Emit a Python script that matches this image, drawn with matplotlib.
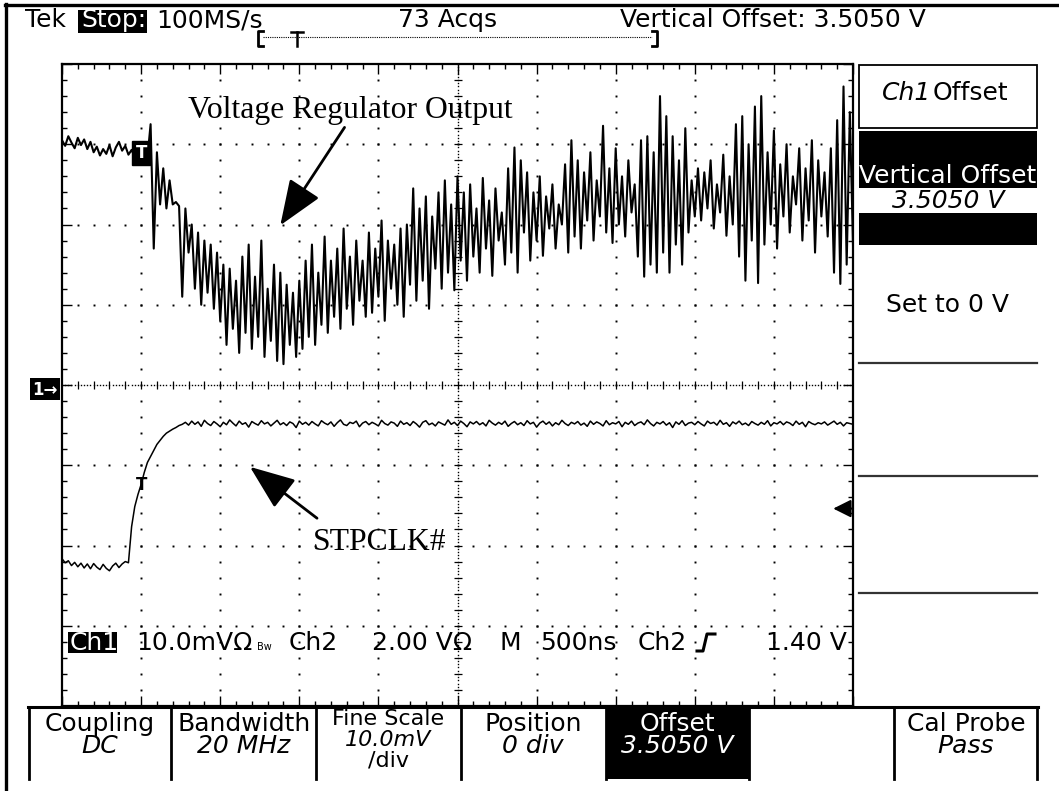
import numpy as np
import matplotlib
matplotlib.use('Agg')
import matplotlib.pyplot as plt
from matplotlib.patches import Rectangle

# scope settings
t_start = -500          # ns at left edge, trigger sits 1 div in
dt = 20                 # ns between the samples typed below
ns_per_div = 500
ch1_mv_per_div = 10.0
ch2_v_per_div = 2.0
ch2_pos_div = -2.24
trig_level_v = 1.40

# Ch1: voltage regulator output, mV relative to the 3.5050 V offset
ch1_mv = [
    30.5, 29.8, 31.0, 30.2, 29.5, 30.8, 29.9, 30.6, 29.4, 30.3, 29.0, 29.7, 28.6, 29.4,
    28.8, 29.9, 28.5, 29.6, 30.3, 29.2, 29.8, 28.7, 29.3, 28.4, 29.0, 28.6, 28.9, 28.3,
    32.5, 17.0, 29.0, 22.5, 27.0, 22.0, 25.5, 22.5, 22.8, 22.3, 11.0, 22.0, 16.5, 20.0,
    12.0, 19.0, 10.0, 18.0, 11.5, 17.5, 9.5, 16.5, 8.0, 15.0, 5.0, 14.5, 7.0, 13.0,
    4.0, 16.0, 6.5, 17.5, 4.5, 13.5, 6.0, 18.0, 3.5, 12.0, 5.5, 15.0, 3.0, 14.0,
    2.6, 12.5, 5.0, 11.5, 3.5, 13.0, 4.5, 15.5, 6.0, 17.5, 5.0, 14.0, 7.5, 18.5,
    6.5, 15.5, 8.5, 17.0, 7.0, 19.5, 9.5, 16.0, 7.5, 18.0, 10.5, 15.5, 8.5, 19.0,
    9.0, 17.0, 11.0, 20.5, 8.0, 18.0, 12.0, 17.5, 10.0, 19.5, 8.5, 20.0, 12.5, 24.5,
    10.5, 22.0, 13.0, 23.5, 9.5, 21.0, 14.5, 24.0, 12.0, 25.5, 14.0, 22.5, 11.8, 26.0,
    15.5, 24.0, 13.0, 25.0, 16.0, 22.0, 14.0, 25.8, 17.0, 23.0, 13.6, 24.5, 18.0, 21.5,
    15.0, 27.0, 16.5, 29.6, 14.0, 28.0, 19.0, 26.5, 15.5, 24.0, 18.0, 26.0, 16.1, 23.5,
    19.5, 25.0, 17.0, 22.5, 20.0, 27.5, 16.5, 30.5, 18.5, 28.0, 17.0, 26.5, 20.5, 29.0,
    18.0, 25.5, 21.0, 32.3, 19.0, 27.0, 17.7, 29.5, 20.0, 26.0, 18.5, 28.0, 21.5, 25.0,
    16.0, 30.5, 13.5, 31.0, 15.0, 29.0, 14.0, 36.0, 16.5, 33.5, 14.0, 31.0, 17.5, 28.0,
    15.0, 32.0, 19.0, 25.5, 21.0, 27.0, 20.5, 26.5, 22.0, 28.0, 19.5, 25.0, 21.5, 28.7,
    18.6, 26.0, 20.0, 32.5, 16.0, 33.5, 13.0, 30.0, 18.0, 34.7, 12.7, 36.0, 17.5, 29.0,
    20.0, 31.7, 17.0, 27.5, 21.0, 30.0, 19.0, 26.0, 22.5, 29.5, 18.0, 27.0, 20.5, 30.5,
    16.5, 28.0, 21.0, 26.5, 18.5, 29.5, 14.0, 33.0, 12.6, 37.2, 15.0, 34.0, 17.5,
]

# Ch2: STPCLK#, volts
ch2_v = [
    0.15, 0.05, 0.10, -0.02, 0.06, -0.05, 0.04, -0.08, 0.02, -0.10, 0.03, -0.06, -0.12, 0.01,
    -0.09, -0.15, -0.03, 0.04, -0.07, 0.02, 0.08,
    0.05, 0.95, 1.45, 1.75, 2.00, 2.30, 2.55, 2.70, 2.85, 3.00, 3.10, 3.20, 3.28, 3.33,
    3.38, 3.42, 3.47, 3.50, 3.55,
    3.48, 3.58, 3.50, 3.56, 3.45, 3.60, 3.52, 3.47, 3.57, 3.51,
    3.44, 3.55, 3.49, 3.61, 3.53, 3.46, 3.58, 3.50, 3.54, 3.43,
    3.57, 3.52, 3.48, 3.59, 3.51, 3.55, 3.46, 3.53, 3.60, 3.49,
    3.54, 3.47, 3.56, 3.52, 3.42, 3.58, 3.50, 3.55, 3.48, 3.57,
    3.51, 3.46, 3.59, 3.53, 3.49, 3.56, 3.45, 3.54, 3.61, 3.50,
    3.47, 3.55, 3.52, 3.58, 3.44, 3.53, 3.57, 3.49, 3.55, 3.51,
    3.46, 3.60, 3.52, 3.48, 3.56, 3.53, 3.45, 3.58, 3.50, 3.54,
    3.47, 3.57, 3.51, 3.43, 3.55, 3.59, 3.49, 3.53, 3.46, 3.56,
    3.52, 3.48, 3.61, 3.50, 3.55, 3.47, 3.58, 3.52, 3.44, 3.56,
    3.51, 3.57, 3.49, 3.54, 3.46, 3.60, 3.53, 3.48, 3.55, 3.50,
    3.58, 3.45, 3.52, 3.57, 3.49, 3.54, 3.47, 3.59, 3.51, 3.55,
    3.43, 3.53, 3.58, 3.50, 3.56, 3.46, 3.54, 3.49, 3.60, 3.52,
    3.47, 3.55, 3.51, 3.57, 3.48, 3.53, 3.45, 3.58, 3.50, 3.56,
    3.52, 3.46, 3.59, 3.49, 3.54, 3.51, 3.57, 3.44, 3.55, 3.50,
    3.58, 3.47, 3.53, 3.56, 3.49, 3.61, 3.52, 3.46, 3.55, 3.51,
    3.57, 3.48, 3.54, 3.42, 3.56, 3.50, 3.59, 3.47, 3.53, 3.55,
    3.49, 3.57, 3.51, 3.46, 3.58, 3.52, 3.55, 3.48, 3.60, 3.50,
    3.54, 3.45, 3.56, 3.51, 3.58, 3.49, 3.53, 3.47, 3.57, 3.52,
    3.48, 3.55, 3.50, 3.59, 3.46, 3.54, 3.51, 3.57, 3.49, 3.56,
    3.53, 3.47, 3.58, 3.50, 3.55, 3.44, 3.57, 3.52, 3.49, 3.54,
    3.51, 3.56, 3.48, 3.53, 3.58, 3.50, 3.55, 3.46, 3.54, 3.52, 3.50,
]

t1 = t_start + dt * np.arange(len(ch1_mv))
t2 = t_start + dt * np.arange(len(ch2_v))

W, H = 1059, 791
FONT = 'DejaVu Sans'
FS = 18
fig = plt.figure(figsize=(W / 100, H / 100), dpi=100)

# pixel canvas for the scope's frame, menus and readouts
bg = fig.add_axes([0, 0, 1, 1])
bg.set_xlim(0, W)
bg.set_ylim(H, 0)
bg.axis('off')

# graticule axes: x in ns, y in divisions
gx0, gx1, gy0, gy1 = 62, 853, 64, 706
ax = fig.add_axes([gx0 / W, 1 - gy1 / H, (gx1 - gx0) / W, (gy1 - gy0) / H])
ax.set_xlim(t_start, t_start + 10 * ns_per_div)
ax.set_ylim(-4, 4)
ax.patch.set_alpha(0)
for s in ax.spines.values():
    s.set_linewidth(1.6)
ax.set_xticks(np.arange(t_start, t_start + 10 * ns_per_div + 1, ns_per_div))
ax.set_xticks(np.arange(t_start, t_start + 10 * ns_per_div + 1, ns_per_div / 5), minor=True)
ax.set_yticks(np.arange(-4, 5, 1))
ax.set_yticks(np.arange(-4, 4.01, 0.2), minor=True)
ax.tick_params(which='both', direction='in', top=True, right=True,
               labelbottom=False, labelleft=False, width=1)
ax.tick_params(which='minor', length=3.5)
ax.tick_params(which='major', length=7)

# dotted graticule
ydots = np.arange(-3.8, 3.81, 0.2)
xdots = np.arange(t_start + 100, t_start + 10 * ns_per_div, 100)
t_mid = t_start + 5 * ns_per_div
for i in range(1, 10):
    if i == 5:
        continue
    x = t_start + i * ns_per_div
    ax.plot(np.full_like(ydots, x), ydots, ls='none', marker='s', ms=1.4, mew=0, color='k')
for j in range(-3, 4):
    if j == 0:
        continue
    ax.plot(xdots, np.full_like(xdots, j, dtype=float), ls='none', marker='s', ms=1.4, mew=0, color='k')
# centre cross: dense dots with small ticks
yd = np.arange(-4, 4.001, 0.04)
ax.plot(np.full_like(yd, t_mid), yd, ls='none', marker='s', ms=1.0, mew=0, color='k')
ax.plot(np.full_like(ydots, t_mid), ydots, ls='none', marker='_', ms=6, mew=0.9, color='k')
xd = np.arange(t_start, t_start + 10 * ns_per_div + 1, 20)
ax.plot(xd, np.zeros_like(xd, dtype=float), ls='none', marker='s', ms=1.0, mew=0, color='k')
ax.plot(xdots, np.zeros_like(xdots, dtype=float), ls='none', marker='|', ms=6, mew=0.9, color='k')

# traces
ax.plot(t1, np.array(ch1_mv) / ch1_mv_per_div, color='k', lw=1.5, zorder=5)
ax.plot(t2, np.array(ch2_v) / ch2_v_per_div + ch2_pos_div, color='k', lw=1.1, zorder=5)

# trigger marks
ax.text(0, np.mean(ch1_mv[20:28]) / ch1_mv_per_div, 'T', color='white', fontsize=12, fontweight='bold',
        family=FONT, ha='center', va='center', zorder=7,
        bbox=dict(boxstyle='square,pad=0.18', fc='black', ec='black'))
ax.text(0, trig_level_v / ch2_v_per_div + ch2_pos_div + 0.3, 'T', color='black', fontsize=12,
        fontweight='bold', family=FONT, ha='center', va='center', zorder=7)
trig_div = trig_level_v / ch2_v_per_div + ch2_pos_div
ax.annotate('', xy=(0.975, trig_div), xytext=(1.0, trig_div), xycoords=ax.get_yaxis_transform(),
            arrowprops=dict(arrowstyle='-|>,head_length=0.9,head_width=0.45', mutation_scale=12,
                            lw=1.5, color='k', shrinkA=0, shrinkB=0), zorder=7)

# annotations
arrow = dict(arrowstyle='-|>,head_length=1.4,head_width=0.55', mutation_scale=20,
             lw=2, color='k', shrinkA=0, shrinkB=0)
ax.annotate('', xy=(880, 1.99), xytext=(1286, 3.21), arrowprops=arrow, zorder=8)
ax.text(1324, 3.33, 'Voltage Regulator Output', family='Liberation Serif', fontsize=22.8,
        ha='center', va='baseline', zorder=8)
ax.annotate('', xy=(688, -1.02), xytext=(1112, -1.66), arrowprops=arrow, zorder=8)
ax.text(1510, -2.05, 'STPCLK#', family='Liberation Serif', fontsize=22.8,
        ha='center', va='baseline', zorder=8)

# outer frame
bg.plot([6, 6], [4, H], color='k', lw=2.4)
bg.plot([5, W], [5, 5], color='k', lw=2.4)

# top readout
bg.text(25, 27, 'Tek', family=FONT, fontsize=FS, va='baseline')
bg.add_patch(Rectangle((78, 10), 69, 23, fc='black', ec='none'))
bg.text(81, 27, 'Stop:', family=FONT, fontsize=FS, color='white', va='baseline')
bg.text(156, 27, '100MS/s', family=FONT, fontsize=FS, va='baseline')
bg.text(398, 27, '73 Acqs', family=FONT, fontsize=FS, va='baseline')
bg.text(620, 27, 'Vertical Offset: 3.5050 V', family=FONT, fontsize=FS, va='baseline')

# record bracket
bg.plot([263, 258, 258, 263], [31, 31, 46, 46], color='k', lw=2.0)
bg.plot([652, 657, 657, 652], [31, 31, 46, 46], color='k', lw=2.0)
bg.plot([263, 652], [37, 37], color='k', lw=0.8, ls=(0, (1, 1)))
bg.plot([291, 303], [32, 32], color='k', lw=1.8)
bg.plot([297, 297], [32, 46], color='k', lw=1.8)

# ch1 ground marker
bg.add_patch(Rectangle((30, 378), 30, 22, fc='black', ec='none'))
bg.text(45, 390, '1\u2192', family=FONT, fontsize=12, fontweight='bold', color='white',
        ha='center', va='center')

# status line
sy = 650
bg.add_patch(Rectangle((68, 632), 49, 21, fc='black', ec='none'))
bg.text(70, sy, 'Ch1', family=FONT, fontsize=FS, color='white', va='baseline')
bg.text(136, sy, '10.0mV\u03a9', family=FONT, fontsize=FS, va='baseline')
bg.text(257, sy, 'Bw', family=FONT, fontsize=7, va='baseline')
bg.text(289, sy, 'Ch2', family=FONT, fontsize=FS, va='baseline')
bg.text(372, sy, '2.00 V\u03a9', family=FONT, fontsize=FS, va='baseline')
bg.text(500, sy, 'M', family=FONT, fontsize=FS, va='baseline')
bg.text(540, sy, '500ns', family=FONT, fontsize=FS, va='baseline')
bg.text(638, sy, 'Ch2', family=FONT, fontsize=FS, va='baseline')
bg.plot([697, 703, 707, 715], [651, 651, 634, 634], color='k', lw=2.2)
bg.text(766, sy, '1.40 V', family=FONT, fontsize=FS, va='baseline')

# bottom menu
bg.plot([28, 1038], [707, 707], color='k', lw=2.2)
bg.add_patch(Rectangle((606, 707), 143, 72, fc='black', ec='none'))
for x in [29, 171, 316, 461, 606, 749, 894, 1037]:
    bg.plot([x, x], [707, 779], color='k', lw=2.0)
rows = [(100, 'Coupling', 'DC'), (244, 'Bandwidth', '20 MHz'), (533, 'Position', '0 div'),
        (966, 'Cal Probe', 'Pass')]
for cx, top, sub in rows:
    bg.text(cx, 731, top, family=FONT, fontsize=FS, ha='center', va='baseline')
    bg.text(cx, 753, sub, family=FONT, fontsize=FS, style='italic', ha='center', va='baseline')
bg.text(677, 731, 'Offset', family=FONT, fontsize=FS, color='white', ha='center', va='baseline')
bg.text(677, 753, '3.5050 V', family=FONT, fontsize=FS, style='italic', color='white',
        ha='center', va='baseline')
bg.text(388, 725, 'Fine Scale', family=FONT, fontsize=16, ha='center', va='baseline')
bg.text(388, 746, '10.0mV', family=FONT, fontsize=16, style='italic', ha='center', va='baseline')
bg.text(388, 767, '/div', family=FONT, fontsize=16, ha='center', va='baseline')

# side menu
bg.add_patch(Rectangle((859, 65), 178, 63, fc='none', ec='k', lw=1.3))
bg.text(882, 100, 'Ch1', family=FONT, fontsize=FS, style='italic', va='baseline')
bg.text(933, 100, 'Offset', family=FONT, fontsize=FS, va='baseline')
bg.add_patch(Rectangle((859, 131), 178, 57, fc='black', ec='none'))
bg.text(948, 183, 'Vertical Offset', family=FONT, fontsize=FS, color='white', ha='center', va='baseline')
bg.text(948, 208, '3.5050 V', family=FONT, fontsize=FS, style='italic', ha='center', va='baseline')
bg.add_patch(Rectangle((859, 213), 178, 32, fc='black', ec='none'))
bg.text(948, 312, 'Set to 0 V', family=FONT, fontsize=FS, ha='center', va='baseline')
for y in [363, 476, 593]:
    bg.plot([859, 1037], [y, y], color='#333333', lw=1.6)

fig.savefig('out.png', dpi=100)
